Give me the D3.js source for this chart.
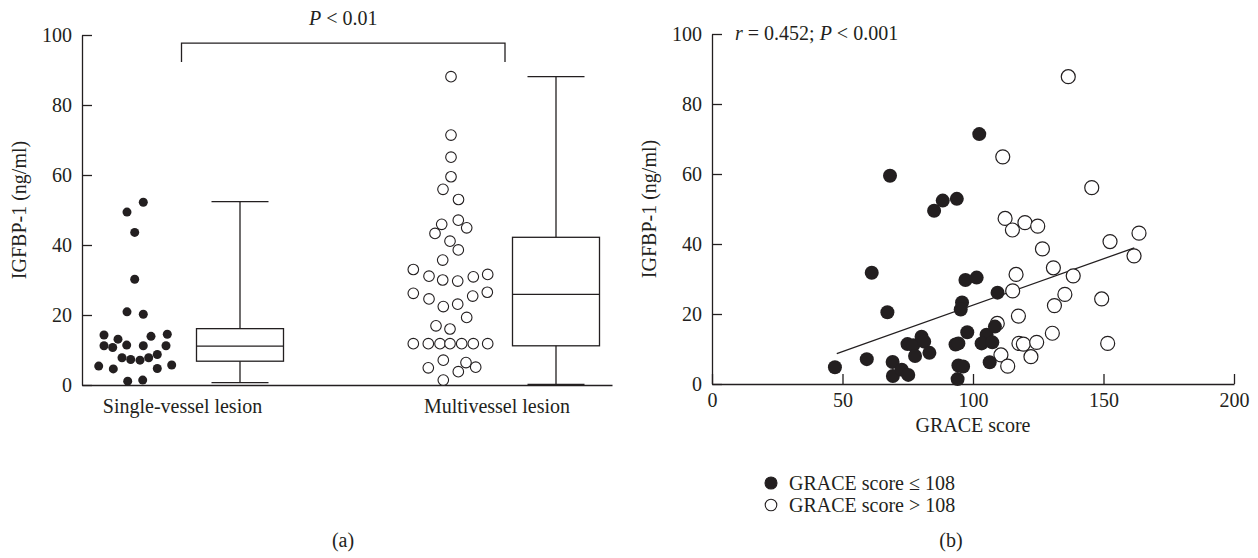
<!DOCTYPE html>
<html>
<head>
<meta charset="utf-8">
<script src="https://cdn.jsdelivr.net/npm/d3@7"></script>
<style>
  body { margin: 0; background: #fff; }
  svg text { font-family: "Liberation Serif", "DejaVu Serif", serif; fill: #231f20; }
</style>
</head>
<body>
<div id="container"></div>
<script>
// ---- panel (a): IGFBP-1 by lesion group ----
// value = IGFBP-1 (ng/ml), jitter = horizontal spread of the dot plot
const singleValues = [52.2, 49.4, 43.6, 30.2, 20.9, 20.2, 14.3, 14.5, 13.1, 13.9, 11.2, 10.7, 11.4,
  11.2, 11.2, 7.8, 7.3, 7.1, 7.8, 8.7, 5.4, 4.6, 4.7, 5.7, 1.1, 1.4];
const singleJitter = [0.83, -0.8, -0.03, -0.03, -0.8, 0.83, -3.1, 3.23, -1.7, 1.6, -3.1, -2.23, -0.83,
  0.83, 3.1, -1.3, -0.43, 0.5, 1.37, 2.23, -3.63, -2.17, 2.23, 3.67, -0.73, 0.77];
const multiValues = [88.1, 71.4, 65.1, 59.5, 55.9, 53.0, 47.1, 45.9, 44.9, 43.3, 41.1, 38.6, 35.7,
  33.0, 31.1, 30.0, 29.7, 30.9, 31.6, 26.2, 24.6, 22.4, 23.1, 25.4, 26.5, 19.3, 16.9, 16.0,
  11.8, 11.8, 11.8, 11.8, 11.8, 11.8, 11.8, 4.9, 7.1, 3.8, 6.4, 5.1, 1.4];
const multiJitter = [0.1, 0.1, 0.1, 0.1, -0.7, 0.85, 0.83, -0.83, 1.67, -1.5, 0, 0.83, -0.73,
  -3.67, -2.1, -0.73, 0.77, 2.33, 3.77, -3.67, -2.1, -0.67, 0.77, 2.27, 3.73, 1.67, -1.4, 0,
  -3.67, -2.17, -1, 0, 1.17, 2.33, 3.77, -2.17, -0.67, 0.83, 1.6, 2.57, -0.67];
// box plots: [whisker low, q1, median, q3, whisker high]
const singleBox = [0.7, 6.8, 11.1, 16.1, 52.4];
const multiBox = [0.2, 11.2, 25.9, 42.2, 88.1];
const groupNames = ["Single-vessel lesion", "Multivessel lesion"];
const yTicksA = [0, 20, 40, 60, 80, 100];

// ---- panel (b): IGFBP-1 vs GRACE score ----
const lowGrace = [[102.4, 71.4], [68.2, 59.5], [85.1, 49.5], [88.4, 52.4], [93.8, 52.9], [61.2, 31.8],
  [67.2, 20.5], [47.1, 4.8], [59.3, 7.1], [69.2, 6.3], [69.3, 2.3], [72.7, 4.1], [75.2, 2.6],
  [74.9, 11.4], [77.1, 11.1], [77.8, 8.0], [80.3, 13.5], [81.3, 12.1], [83.3, 8.9], [93.3, 11.3],
  [94.4, 11.6], [97.8, 14.8], [94.4, 5.3], [96.2, 5.0], [94.1, 1.4], [97.1, 29.7], [101.4, 30.4],
  [109.4, 26.1], [95.8, 23.3], [95.3, 21.3], [105.2, 14.1], [108.4, 16.4], [103.3, 11.6],
  [107.4, 11.9], [106.4, 6.2]];
const highGrace = [[136.5, 87.8], [111.4, 64.9], [145.5, 56.1], [112.3, 47.3], [115.1, 44.0],
  [119.9, 46.1], [124.8, 45.1], [126.6, 38.6], [152.5, 40.7], [163.6, 43.1], [161.7, 36.6],
  [116.5, 31.3], [130.8, 33.2], [138.4, 30.9], [115.2, 26.6], [135.2, 25.6], [131.2, 22.4],
  [149.3, 24.3], [117.4, 19.4], [109.3, 17.3], [130.4, 14.5], [117.6, 11.6], [119.3, 11.4],
  [124.4, 11.9], [151.6, 11.6], [110.7, 8.3], [122.2, 7.8], [113.3, 5.1]];
const fitLine = [[47.8, 8.7], [161.8, 38.9]];
const xTicksB = [0, 50, 100, 150, 200];
const yTicksB = [0, 20, 40, 60, 80, 100];
const legendLabels = ["GRACE score \u2264 108", "GRACE score > 108"];

const w = 1258, h = 558;
const ink = "#231f20";
const fontSize = 20;

const svg = d3.select("#container").append("svg")
  .attr("width", w).attr("height", h);

// ================= panel (a) =================
const xA = d3.scaleLinear().domain([0, 53]).range([82, 612]);
const yA = d3.scaleLinear().domain([0, 100]).range([385, 35]);
// positions of the four columns along xA
const pos = { singleDots: 5.3, singleBox: 15.8, multiDots: 36.8, multiBox: 47.4 };

const gA = svg.append("g");

const yAxisA = d3.axisLeft(yA).tickValues(yTicksA).tickSize(-10).tickSizeOuter(0).tickPadding(10);
gA.append("g").attr("transform", "translate(" + xA(0) + ",0)").call(yAxisA);
gA.append("g").attr("transform", "translate(0," + yA(0) + ")")
  .call(d3.axisBottom(xA).tickValues([]).tickSizeOuter(0));

gA.append("text")
  .attr("transform", "translate(26," + yA(50) + ") rotate(-90)")
  .attr("text-anchor", "middle")
  .style("font-size", fontSize + "px")
  .text("IGFBP-1 (ng/ml)");

const singleData = singleValues.map((v, i) => ({ v: v, j: singleJitter[i] }));
const multiData = multiValues.map((v, i) => ({ v: v, j: multiJitter[i] }));

gA.selectAll(".sdot").data(singleData).enter().append("circle")
  .attr("class", "sdot")
  .attr("cx", d => xA(pos.singleDots + d.j))
  .attr("cy", d => yA(d.v))
  .attr("r", 4.5)
  .attr("fill", ink);

gA.selectAll(".mdot").data(multiData).enter().append("circle")
  .attr("class", "mdot")
  .attr("cx", d => xA(pos.multiDots + d.j))
  .attr("cy", d => yA(d.v))
  .attr("r", 5.3)
  .attr("fill", "#fff")
  .attr("stroke", ink)
  .attr("stroke-width", 1.1);

const drawBox = (g, stats, center) => {
  const half = 4.35, cap = 2.85;
  const line = (x1, y1, x2, y2) => g.append("line")
    .attr("x1", x1).attr("y1", y1).attr("x2", x2).attr("y2", y2)
    .attr("stroke", ink).attr("stroke-width", 1.3);
  line(xA(center), yA(stats[0]), xA(center), yA(stats[1]));
  line(xA(center), yA(stats[3]), xA(center), yA(stats[4]));
  line(xA(center - cap), yA(stats[0]), xA(center + cap), yA(stats[0]));
  line(xA(center - cap), yA(stats[4]), xA(center + cap), yA(stats[4]));
  g.append("rect")
    .attr("x", xA(center - half)).attr("y", yA(stats[3]))
    .attr("width", xA(center + half) - xA(center - half))
    .attr("height", yA(stats[1]) - yA(stats[3]))
    .attr("fill", "none").attr("stroke", ink).attr("stroke-width", 1.3);
  line(xA(center - half), yA(stats[2]), xA(center + half), yA(stats[2]));
};
drawBox(gA, singleBox, pos.singleBox);
drawBox(gA, multiBox, pos.multiBox);

gA.selectAll(".cat").data(groupNames).enter().append("text")
  .attr("class", "cat")
  .attr("x", (d, i) => i === 0 ? xA((pos.singleDots + pos.singleBox) / 2) - 5 : xA((pos.multiDots + pos.multiBox) / 2) - 6)
  .attr("y", 413)
  .attr("text-anchor", "middle")
  .style("font-size", fontSize + "px")
  .text(d => d);

// significance bracket
const bx1 = xA((pos.singleDots + pos.singleBox) / 2 - 0.6);
const bx2 = xA((pos.multiDots + pos.multiBox) / 2 + 0.2);
gA.append("path")
  .attr("d", "M" + bx1 + "," + yA(92.3) + "V" + yA(97.7) + "H" + bx2 + "V" + yA(92.3))
  .attr("fill", "none").attr("stroke", ink).attr("stroke-width", 1.3);
const pA = gA.append("text")
  .attr("x", (bx1 + bx2) / 2).attr("y", 25)
  .attr("text-anchor", "middle")
  .style("font-size", fontSize + "px");
pA.append("tspan").style("font-style", "italic").text("P");
pA.append("tspan").text(" < 0.01");

gA.append("text")
  .attr("x", 343).attr("y", 547)
  .attr("text-anchor", "middle")
  .style("font-size", fontSize + "px")
  .text("(a)");

// ================= panel (b) =================
const xB = d3.scaleLinear().domain([0, 200]).range([712, 1234]);
const yB = d3.scaleLinear().domain([0, 100]).range([384, 34]);
const gB = svg.append("g");

gB.append("g").attr("transform", "translate(" + xB(0) + ",0)")
  .call(d3.axisLeft(yB).tickValues(yTicksB).tickSize(-10).tickSizeOuter(0).tickPadding(10));
gB.append("g").attr("transform", "translate(0," + yB(0) + ")")
  .call(d3.axisBottom(xB).tickValues(xTicksB).tickSize(-10).tickSizeOuter(0).tickPadding(9));

gB.append("text")
  .attr("transform", "translate(656," + yB(50) + ") rotate(-90)")
  .attr("text-anchor", "middle")
  .style("font-size", fontSize + "px")
  .text("IGFBP-1 (ng/ml)");

gB.append("text")
  .attr("x", xB(100)).attr("y", 432)
  .attr("text-anchor", "middle")
  .style("font-size", fontSize + "px")
  .text("GRACE score");

const rTxt = gB.append("text")
  .attr("x", 735).attr("y", 40)
  .style("font-size", fontSize + "px");
rTxt.append("tspan").style("font-style", "italic").text("r");
rTxt.append("tspan").text(" = 0.452; ");
rTxt.append("tspan").style("font-style", "italic").text("P");
rTxt.append("tspan").text(" < 0.001");

gB.append("path")
  .datum(fitLine)
  .attr("d", d3.line().x(d => xB(d[0])).y(d => yB(d[1])))
  .attr("fill", "none").attr("stroke", ink).attr("stroke-width", 1.3);

gB.selectAll(".hi").data(highGrace).enter().append("circle")
  .attr("class", "hi")
  .attr("cx", d => xB(d[0])).attr("cy", d => yB(d[1]))
  .attr("r", 7)
  .attr("fill", "#fff").attr("stroke", ink).attr("stroke-width", 1.2);

gB.selectAll(".lo").data(lowGrace).enter().append("circle")
  .attr("class", "lo")
  .attr("cx", d => xB(d[0])).attr("cy", d => yB(d[1]))
  .attr("r", 7)
  .attr("fill", ink);

// legend
const leg = gB.selectAll(".leg").data(legendLabels).enter().append("g")
  .attr("class", "leg")
  .attr("transform", (d, i) => "translate(771," + (483 + i * 22) + ")");
leg.append("circle")
  .attr("r", (d, i) => i === 0 ? 6 : 5.8)
  .attr("fill", (d, i) => i === 0 ? ink : "#fff")
  .attr("stroke", ink).attr("stroke-width", 1.1);
leg.append("text")
  .attr("x", 18).attr("dy", "0.35em")
  .style("font-size", fontSize + "px")
  .text(d => d);

gB.append("text")
  .attr("x", 951).attr("y", 547)
  .attr("text-anchor", "middle")
  .style("font-size", fontSize + "px")
  .text("(b)");

// axis styling
svg.selectAll(".domain, .tick line").attr("stroke", ink).attr("stroke-width", 1.3);
svg.selectAll(".tick text").style("font-size", fontSize + "px").attr("fill", ink);
svg.selectAll("g[font-family]").attr("font-family", null);
</script>
</body>
</html>
